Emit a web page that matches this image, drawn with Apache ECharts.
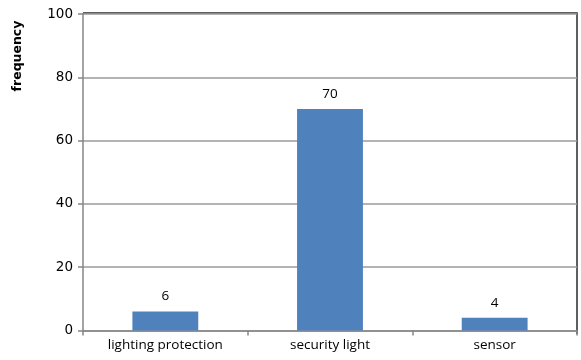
<!DOCTYPE html>
<html>
<head>
<meta charset="utf-8">
<script src="https://cdn.jsdelivr.net/npm/echarts@6/dist/echarts.min.js"></script>
<style>
  html, body { margin: 0; padding: 0; background: #fff; }
  #chart { width: 581px; height: 360px; }
</style>
</head>
<body>
<div id="chart"></div>
<script>
// Survey answers: how often each security feature was mentioned
const categories = ['lighting protection', 'security light', 'sensor'];
const frequency = [6, 70, 4];
const yTicks = { min: 0, max: 100, interval: 20 };
const yTitle = 'frequency';

const chart = echarts.init(document.getElementById('chart'), null, { renderer: 'canvas' });

chart.setOption({
  animation: false,
  grid: { left: 83, right: 4, top: 14, bottom: 29.5, containLabel: false },
  xAxis: {
    type: 'category',
    data: categories,
    axisLine: { lineStyle: { color: '#868686', width: 1.5 } },
    axisTick: { show: true, length: 5, alignWithLabel: false, lineStyle: { color: '#868686', width: 1.5 } },
    axisLabel: { color: '#000', fontFamily: 'Open Sans', fontSize: 13.5, margin: 8 },
    splitLine: { show: false }
  },
  yAxis: {
    type: 'value',
    min: yTicks.min,
    max: yTicks.max,
    interval: yTicks.interval,
    axisLine: { show: true, lineStyle: { color: '#868686', width: 1.5 } },
    axisTick: { show: true, length: 5, lineStyle: { color: '#868686', width: 1.5 } },
    axisLabel: { color: '#000', fontFamily: 'DejaVu Sans', fontSize: 13.5, margin: 10 },
    splitLine: { show: true, lineStyle: { color: '#9a9a9a', width: 1.5 } }
  },
  series: [{
    type: 'bar',
    data: frequency,
    barWidth: '40%',
    itemStyle: { color: '#4F81BD' },
    label: {
      show: true,
      position: 'top',
      distance: 8,
      color: '#000',
      fontFamily: 'Open Sans',
      fontSize: 13.5
    }
  }],
  graphic: [
    {
      type: 'polyline',
      silent: true,
      shape: { points: [[83, 13], [577, 13], [577, 334]] },
      style: { stroke: '#2b2b2b', lineWidth: 1.5, fill: null }
    },
    {
      // axis title reads bottom-to-top
      type: 'text',
      x: 18,
      y: 56,
      rotation: Math.PI / 2,
      style: {
        text: yTitle,
        fill: '#000',
        font: 'bold 12.5px "DejaVu Sans"',
        align: 'center',
        verticalAlign: 'middle'
      }
    }
  ]
});
</script>
</body>
</html>
